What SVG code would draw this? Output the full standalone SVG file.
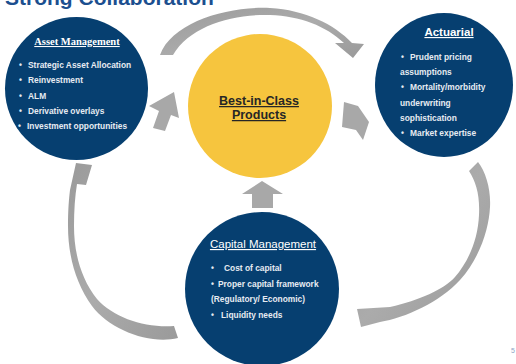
<svg xmlns="http://www.w3.org/2000/svg" width="516" height="364" viewBox="0 0 516 364">
  <style>
    .title { font-family: "Liberation Sans", Arial, sans-serif; font-weight: bold; font-size: 21px; fill: #1c4f8f; }
    .node { fill: #063f70; }
    .core { fill: #f6c53e; }
    .head { font-family: "Liberation Sans", Arial, sans-serif; font-size: 11.5px; fill: #ffffff; text-decoration: underline; }
    .headSerif { font-family: "Liberation Serif", "Times New Roman", serif; font-weight: bold; font-size: 10.5px; fill: #ffffff; text-decoration: underline; }
    .item { font-family: "Liberation Sans", Arial, sans-serif; font-weight: bold; font-size: 8.4px; fill: #e6ebf2; }
    .coreText { font-family: "Liberation Sans", Arial, sans-serif; font-weight: bold; font-size: 12.5px; fill: #262626; text-decoration: underline; }
    .arrow { fill: url(#grey); }
    .block { fill: #a8a8a8; }
    .pageNo { font-family: "Liberation Sans", Arial, sans-serif; font-size: 7px; fill: #8ea3c4; }
  </style>
  <defs>
    <linearGradient id="grey" x1="0" y1="0" x2="1" y2="1">
      <stop offset="0" stop-color="#9a9a9a"/>
      <stop offset="0.5" stop-color="#ababab"/>
      <stop offset="1" stop-color="#9a9a9a"/>
    </linearGradient>
  </defs>

  <text class="title" x="5" y="5">Strong Collaboration</text>

  <g id="connectors">
    <!-- Asset Management to Actuarial, arcing over the top -->
    <path class="arrow" d="M160 55 C172 22 228 6 270 8 C305 10 334 24 352 43 L364 44 L353 58 L335 43 L344 43 C326 26 300 16 270 15 C232 14 190 26 173 55 Z"/>
    <!-- Actuarial to Capital Management, down the right side -->
    <path class="arrow" d="M469 171 L478 162 C486 172 491 190 490 207 C489 228 480 258 460 280 C440 302 405 318 380 322 L361 327 L357 309 L390 307 C420 300 443 290 455 277 C468 262 478 240 479 215 C480 195 476 182 469 171 Z"/>
    <!-- Capital Management to Asset Management, up the left side -->
    <path class="arrow" d="M178 338 C150 345 110 330 92 306 C76 284 68 256 68 226 C68 210 69 198 70 190 L76 163 L92 165 L86 185 L77 184 C75 196 74 210 74 226 C74 253 81 279 97 299 C114 318 145 328 174 326 Z"/>
    <!-- feeds into Best-in-Class Products -->
    <path class="block" d="M174 92 L179 118 L171 115 L165 131 L153 128 L159 111 L149 106 Z"/>
    <path class="block" d="M344 102 L358 106 L369 122 L363 140 L356 130 L342 127 Z"/>
    <path class="block" d="M262 181 L283 194 L273 194 L273 208 L252 208 L252 194 L242 194 Z"/>
  </g>

  <g id="best-in-class">
    <circle class="core" cx="260" cy="106" r="72"/>
    <text class="coreText" x="259" y="105" text-anchor="middle">Best-in-Class</text>
    <text class="coreText" x="259" y="119" text-anchor="middle">Products</text>
  </g>

  <g id="asset-management">
    <circle class="node" cx="76.5" cy="88.5" r="71.5"/>
    <text class="headSerif" x="77" y="45" text-anchor="middle">Asset Management</text>
    <g class="item">
      <text x="19" y="68">•</text><text x="28" y="68">Strategic Asset  Allocation</text>
      <text x="19" y="83">•</text><text x="28" y="83">Reinvestment</text>
      <text x="19" y="99">•</text><text x="28" y="99">ALM</text>
      <text x="19" y="114">•</text><text x="28" y="114">Derivative overlays</text>
      <text x="18" y="129">•</text><text x="27" y="129">Investment opportunities</text>
    </g>
  </g>

  <g id="actuarial">
    <ellipse class="node" cx="444" cy="85" rx="69" ry="72"/>
    <text class="head" x="449" y="36" text-anchor="middle" font-weight="bold">Actuarial</text>
    <g class="item">
      <text x="401" y="60">•</text><text x="410" y="60">Prudent pricing</text>
      <text x="400" y="75">assumptions</text>
      <text x="401" y="90">•</text><text x="410" y="90">Mortality/morbidity</text>
      <text x="400" y="106">underwriting</text>
      <text x="400" y="121">sophistication</text>
      <text x="401" y="136">•</text><text x="410" y="136">Market expertise</text>
    </g>
  </g>

  <g id="capital-management">
    <circle class="node" cx="262" cy="289" r="77"/>
    <text class="head" x="263" y="248" text-anchor="middle">Capital Management</text>
    <g class="item">
      <text x="211" y="271">•</text><text x="224" y="271">Cost of capital</text>
      <text x="211" y="287">•</text><text x="218" y="287">Proper capital  framework</text>
      <text x="211" y="302">(Regulatory/  Economic)</text>
      <text x="211" y="318">•</text><text x="221" y="318">Liquidity  needs</text>
    </g>
  </g>

  <text class="pageNo" x="511" y="353">5</text>
</svg>
